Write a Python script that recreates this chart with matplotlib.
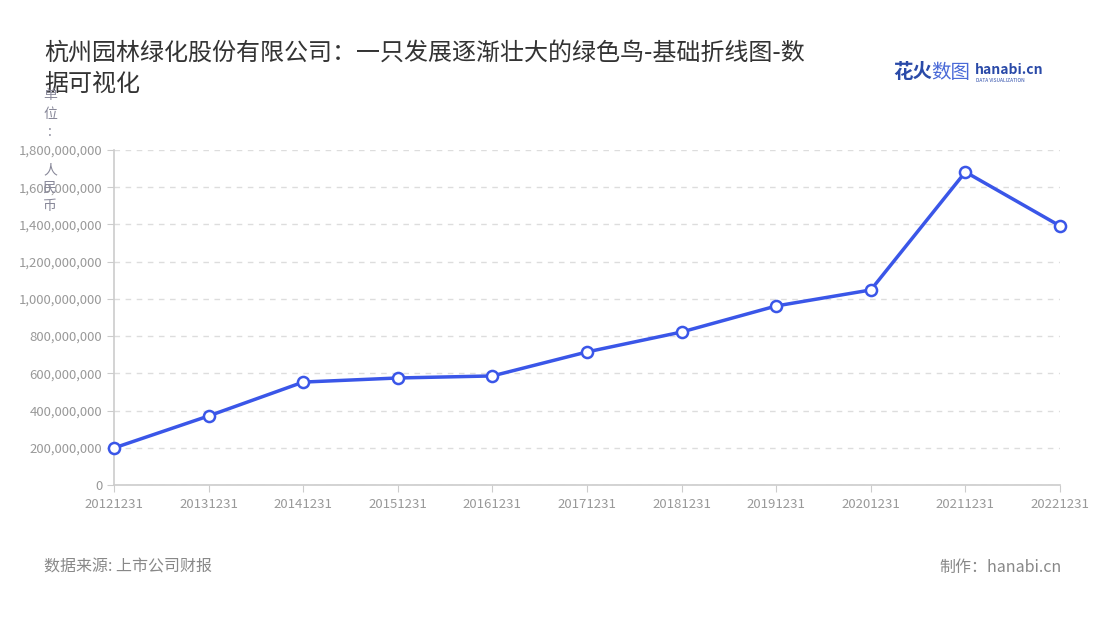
import matplotlib
matplotlib.use("Agg")
import matplotlib.pyplot as plt
from matplotlib.ticker import FuncFormatter, MultipleLocator

plt.rcParams['font.family'] = ['Noto Sans CJK SC', 'DejaVu Sans']

dates = ["20121231", "20131231", "20141231", "20151231", "20161231", "20171231",
         "20181231", "20191231", "20201231", "20211231", "20221231"]
values = [199e6, 371e6, 553e6, 575e6, 586e6, 715e6, 822e6, 962e6, 1048e6, 1682e6, 1392e6]

title = "杭州园林绿化股份有限公司：一只发展逐渐壮大的绿色鸟-基础折线图-数\n据可视化"
unit_chars = ["单", "位", ":", "人", "民", "币"]
source = "数据来源: 上市公司财报"
maker = "制作：hanabi.cn"

fig = plt.figure(figsize=(11, 6.2), dpi=100)
ax = fig.add_axes([114/1100, 1-485/620, (1060-114)/1100, (485-150)/620])

x = list(range(len(dates)))
ax.plot(x, values, color="#3a56e8", linewidth=2.5, marker="o", markersize=8,
        markerfacecolor="white", markeredgecolor="#3a56e8", markeredgewidth=1.8,
        zorder=3, clip_on=False)

ax.set_xlim(0, len(dates)-1)
ax.set_ylim(0, 1.8e9)
ax.yaxis.set_major_locator(MultipleLocator(2e8))
ax.yaxis.set_major_formatter(FuncFormatter(lambda v, p: f"{int(v):,}"))
ax.set_xticks(x)
ax.set_xticklabels(dates)

ax.grid(axis="y", color="#dddddd", linestyle=(0, (4, 4)), linewidth=1)
ax.set_axisbelow(True)
for s in ["top", "right"]:
    ax.spines[s].set_visible(False)
for s in ["left", "bottom"]:
    ax.spines[s].set_color("#cccccc")
    ax.spines[s].set_linewidth(1.2)
ax.tick_params(axis="both", colors="#cccccc", labelcolor="#999999", labelsize=9.5, length=5)
ax.tick_params(axis="x", pad=4)

fig.text(44/1100, 1-40/620, title, fontsize=17.3, color="#333333", va="top", ha="left",
         linespacing=1.25)
unit_y = [95, 114, 132, 170, 188, 206]
for ch, yy in zip(unit_chars, unit_y):
    fig.text(50/1100, 1-yy/620, ch, fontsize=10, color="#888899", va="center", ha="center")
fig.text(44/1100, 1-567/620, source, fontsize=11.5, color="#888888", va="center", ha="left")
fig.text(1062/1100, 1-567/620, maker, fontsize=11.5, color="#888888", va="center", ha="right")

fig.text(893/1100, 1-73/620, "花火", fontsize=14, color="#2a4aa8", fontweight="bold", va="center", ha="left")
fig.text(931/1100, 1-73/620, "数图", fontsize=14, color="#4a6ad8", va="center", ha="left")
fig.text(975/1100, 1-70/620, "hanabi.cn", fontsize=10, color="#2a4aa8", fontweight="bold", va="center", ha="left")
fig.text(976/1100, 1-80/620, "DATA VISUALIZATION", fontsize=3.5, color="#2a4aa8", va="center", ha="left")

fig.savefig("out.png", dpi=100, facecolor="white")
